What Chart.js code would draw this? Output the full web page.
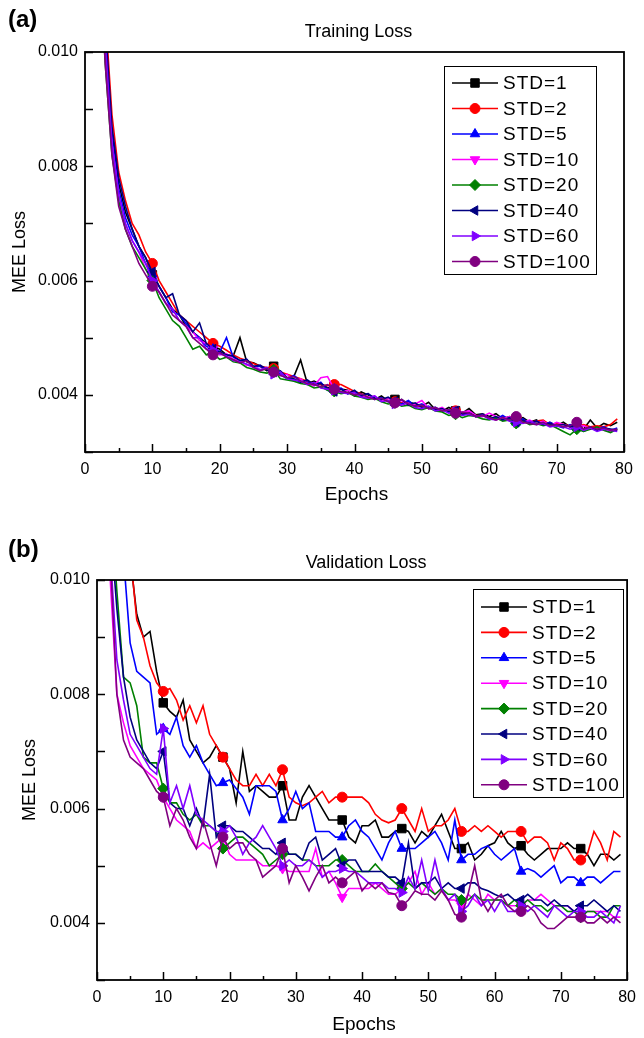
<!DOCTYPE html>
<html>
<head>
<meta charset="utf-8">
<script src="https://cdn.jsdelivr.net/npm/chart.js@4.4.0/dist/chart.umd.min.js"></script>
<style>
  html, body { margin: 0; padding: 0; background: #fff; }
  #wrap { position: relative; width: 644px; height: 1038px; }
  canvas { position: absolute; left: 0; }
</style>
</head>
<body>
<div id="wrap">
  <canvas id="trainChart" width="644" height="530" style="top:0"></canvas>
  <canvas id="valChart" width="644" height="508" style="top:530px"></canvas>
</div>
<script>
// epochs on the x axis
const epochs = [
  1, 2, 3, 4, 5, 6, 7, 8, 9, 10,
  11, 12, 13, 14, 15, 16, 17, 18, 19, 20,
  21, 22, 23, 24, 25, 26, 27, 28, 29, 30,
  31, 32, 33, 34, 35, 36, 37, 38, 39, 40,
  41, 42, 43, 44, 45, 46, 47, 48, 49, 50,
  51, 52, 53, 54, 55, 56, 57, 58, 59, 60,
  61, 62, 63, 64, 65, 66, 67, 68, 69, 70,
  71, 72, 73, 74, 75, 76, 77, 78, 79
];

const seriesNames = ['STD=1', 'STD=2', 'STD=5', 'STD=10', 'STD=20', 'STD=40', 'STD=60', 'STD=100'];
const seriesColors = ['#000000', '#ff0000', '#0000ff', '#ff00ff', '#008000', '#000080', '#8000ff', '#800080'];
const markerStyles = ['rect', 'circle', 'triangle', 'triangle', 'rectRot', 'triangle', 'triangle', 'circle'];
const markerRotations = [0, 0, 0, 180, 0, 270, 90, 0];
const markerSizes = [6, 5, 5.5, 5.5, 5.5, 5.5, 5.5, 5];

const yTicksShown = [0.004, 0.006, 0.008, 0.010];

// ---- (a) training loss ----
const trainStd1 = [
  0.0165, 0.0128, 0.0104, 0.0086, 0.0077, 0.0072, 0.0069, 0.0066, 0.0064, 0.0061,
  0.0059, 0.0057, 0.0055, 0.0054, 0.0052, 0.0051, 0.0050, 0.0049, 0.00485, 0.0048,
  0.0047, 0.00468, 0.0050, 0.00458, 0.00456, 0.0045, 0.00442, 0.0045, 0.00435, 0.0043,
  0.00432, 0.00461, 0.0042, 0.00424, 0.00418, 0.00412, 0.00415, 0.0041, 0.00408, 0.00398,
  0.00405, 0.0040, 0.00392, 0.00398, 0.00389, 0.00392, 0.00385, 0.00388, 0.00384, 0.0038,
  0.00387, 0.00374, 0.00372, 0.00378, 0.00372, 0.00368, 0.00376, 0.00365, 0.00367, 0.00362,
  0.00367, 0.00358, 0.00362, 0.00356, 0.0036, 0.00352, 0.00356, 0.00348, 0.00352, 0.00346,
  0.00352, 0.00344, 0.00348, 0.0034, 0.00356, 0.00342, 0.0035, 0.00346, 0.00352
];
const trainStd2 = [
  0.0170, 0.0132, 0.0107, 0.0089, 0.0079, 0.0074, 0.0070, 0.0068, 0.0065, 0.0063,
  0.0060, 0.0058, 0.0056, 0.0054, 0.0053, 0.0052, 0.0051, 0.0050, 0.0049, 0.00485,
  0.00478, 0.0047, 0.00464, 0.0046, 0.00455, 0.0045, 0.00448, 0.00446, 0.0044, 0.00436,
  0.00432, 0.00428, 0.00424, 0.0042, 0.00418, 0.00416, 0.00418, 0.00418, 0.00412, 0.00406,
  0.00402, 0.00396, 0.00394, 0.00392, 0.0039, 0.00388, 0.00386, 0.00386, 0.00382, 0.00379,
  0.00376, 0.00376, 0.00374, 0.00372, 0.00372, 0.00368, 0.00366, 0.00364, 0.00364, 0.0036,
  0.00356, 0.00362, 0.00358, 0.0036, 0.00354, 0.00352, 0.00354, 0.00356, 0.00348, 0.0035,
  0.00348, 0.00346, 0.00344, 0.00348, 0.00344, 0.00346, 0.00344, 0.00348, 0.00358
];
const trainStd5 = [
  0.0160, 0.0124, 0.0101, 0.0085, 0.0076, 0.0071, 0.0068, 0.0066, 0.0063, 0.0061,
  0.0059, 0.0057, 0.00545, 0.0054, 0.00525, 0.0051, 0.0050, 0.00485, 0.0048, 0.00475,
  0.0050, 0.00466, 0.0046, 0.00462, 0.00448, 0.0045, 0.00446, 0.0044, 0.00436, 0.00428,
  0.00434, 0.00424, 0.00422, 0.00416, 0.00422, 0.00408, 0.0041, 0.00412, 0.00402, 0.00404,
  0.00398, 0.00402, 0.00392, 0.00395, 0.00388, 0.00386, 0.00384, 0.0039, 0.0038, 0.00384,
  0.00376, 0.00378, 0.00372, 0.00374, 0.0037, 0.00364, 0.0037, 0.00362, 0.00366, 0.0036,
  0.00358, 0.00364, 0.00356, 0.00352, 0.00358, 0.0035, 0.00354, 0.00348, 0.00352, 0.00346,
  0.00342, 0.00348, 0.00344, 0.00336, 0.00342, 0.0034, 0.00344, 0.00338, 0.00342
];
const trainStd10 = [
  0.0158, 0.0122, 0.0099, 0.0084, 0.0075, 0.0070, 0.0067, 0.0065, 0.0062, 0.0060,
  0.0058, 0.0056, 0.0055, 0.0053, 0.0052, 0.0051, 0.00495, 0.0049, 0.0048, 0.0047,
  0.00472, 0.00462, 0.0046, 0.00452, 0.0045, 0.00444, 0.00446, 0.0044, 0.00434, 0.00436,
  0.00424, 0.00428, 0.0042, 0.00416, 0.0043, 0.00432, 0.0041, 0.00404, 0.00408, 0.00402,
  0.00398, 0.00396, 0.00398, 0.0039, 0.00394, 0.00386, 0.0039, 0.00382, 0.00384, 0.0039,
  0.00376, 0.00374, 0.00378, 0.0037, 0.00368, 0.0037, 0.00372, 0.00364, 0.00362, 0.00368,
  0.00362, 0.00358, 0.00362, 0.00356, 0.00352, 0.00356, 0.0035, 0.00354, 0.00346, 0.00352,
  0.00348, 0.00344, 0.00342, 0.00346, 0.0034, 0.00342, 0.00338, 0.00336, 0.00338
];
const trainStd20 = [
  0.0155, 0.0120, 0.0098, 0.0082, 0.0074, 0.0069, 0.0066, 0.0064, 0.0062, 0.0060,
  0.0057, 0.0055, 0.0053, 0.0052, 0.0050, 0.0048, 0.00485, 0.0047, 0.00472, 0.00462,
  0.00466, 0.00458, 0.00456, 0.00448, 0.00445, 0.0044, 0.00438, 0.00444, 0.00428, 0.00426,
  0.00424, 0.0042, 0.00418, 0.00412, 0.00414, 0.00408, 0.00406, 0.00402, 0.00404, 0.00398,
  0.00396, 0.00392, 0.00394, 0.00388, 0.00384, 0.00386, 0.0038, 0.00382, 0.00376, 0.00374,
  0.00378, 0.00372, 0.0037, 0.00364, 0.00366, 0.0036, 0.00364, 0.00362, 0.00358, 0.00356,
  0.0036, 0.00354, 0.00356, 0.0035, 0.00354, 0.00348, 0.0035, 0.00346, 0.00348, 0.00342,
  0.00336, 0.0033, 0.0034, 0.00336, 0.0034, 0.00344, 0.00338, 0.00334, 0.0034
];
const trainStd40 = [
  0.0168, 0.0129, 0.0105, 0.0087, 0.0078, 0.0073, 0.0069, 0.0066, 0.0064, 0.00615,
  0.0059, 0.0057, 0.00577, 0.0054, 0.0053, 0.0051, 0.00526, 0.0049, 0.0048, 0.00476,
  0.0047, 0.00468, 0.0046, 0.00462, 0.0045, 0.00452, 0.00444, 0.0044, 0.00442, 0.0043,
  0.00428, 0.00422, 0.00426, 0.00418, 0.0042, 0.00412, 0.00406, 0.0041, 0.00402, 0.00408,
  0.00398, 0.00402, 0.00394, 0.00392, 0.00396, 0.00388, 0.00392, 0.00382, 0.00386, 0.00378,
  0.0038, 0.00374, 0.00376, 0.0037, 0.00372, 0.00366, 0.00368, 0.00362, 0.00366, 0.00358,
  0.00362, 0.00356, 0.0036, 0.00352, 0.00356, 0.0035, 0.00354, 0.00348, 0.0035, 0.00346,
  0.00348, 0.00344, 0.00346, 0.0034, 0.00344, 0.00338, 0.00342, 0.0034, 0.00338
];
const trainStd60 = [
  0.0162, 0.0125, 0.0102, 0.0084, 0.0075, 0.0070, 0.0067, 0.0065, 0.0063, 0.0060,
  0.0058, 0.0056, 0.0055, 0.0053, 0.0052, 0.0050, 0.0050, 0.0048, 0.00478, 0.00472,
  0.00468, 0.0046, 0.00458, 0.00454, 0.00448, 0.00444, 0.00448, 0.00436, 0.0044, 0.00428,
  0.00426, 0.00424, 0.00418, 0.00422, 0.00412, 0.0041, 0.00408, 0.00404, 0.00402, 0.00404,
  0.00396, 0.00394, 0.00398, 0.00388, 0.0039, 0.00384, 0.00382, 0.00386, 0.00378, 0.00376,
  0.0038, 0.00372, 0.00374, 0.00368, 0.0037, 0.00364, 0.00366, 0.00362, 0.00364, 0.00358,
  0.00356, 0.0036, 0.00354, 0.00352, 0.0035, 0.00354, 0.00348, 0.0035, 0.00344, 0.00346,
  0.00344, 0.0034, 0.00344, 0.00338, 0.00342, 0.00336, 0.0034, 0.00338, 0.00336
];
const trainStd100 = [
  0.0157, 0.0121, 0.0098, 0.0082, 0.0073, 0.0069, 0.0066, 0.0063, 0.0061, 0.0059,
  0.0058, 0.0056, 0.0054, 0.0053, 0.0052, 0.0050, 0.0049, 0.0048, 0.0047, 0.00474,
  0.00466, 0.00462, 0.00456, 0.0046, 0.00448, 0.00442, 0.00446, 0.0044, 0.00434, 0.0043,
  0.00432, 0.00424, 0.0042, 0.00418, 0.00414, 0.00418, 0.0041, 0.00406, 0.00404, 0.0040,
  0.00402, 0.00396, 0.00392, 0.00394, 0.00388, 0.00386, 0.00392, 0.00384, 0.0038, 0.00382,
  0.00376, 0.00378, 0.00372, 0.00374, 0.00368, 0.0037, 0.00368, 0.00362, 0.00364, 0.0036,
  0.00356, 0.0036, 0.00356, 0.00362, 0.00352, 0.0035, 0.00348, 0.00352, 0.00346, 0.00348,
  0.00344, 0.00346, 0.00352, 0.0034, 0.00344, 0.0034, 0.00342, 0.00338, 0.0034
];

// ---- (b) validation loss ----
const valStd1 = [
  0.0135, 0.0125, 0.0116, 0.0109, 0.0104, 0.0094, 0.0090, 0.0091, 0.0084, 0.00785,
  0.0077, 0.0076, 0.0079, 0.0072, 0.0070, 0.0068, 0.0069, 0.0071, 0.0069, 0.0067,
  0.0061, 0.0070, 0.0063, 0.0064, 0.0063, 0.0062, 0.0062, 0.0064, 0.0058, 0.0058,
  0.0062, 0.0064, 0.0062, 0.0060, 0.0058, 0.0058, 0.0058, 0.0055, 0.0054, 0.0057,
  0.0057, 0.0058, 0.0055, 0.0055, 0.0056, 0.00565, 0.0056, 0.0054, 0.0056, 0.0055,
  0.0057, 0.0059, 0.0056, 0.0053, 0.0053, 0.0054, 0.0051, 0.0052, 0.00535, 0.0054,
  0.0056, 0.0054, 0.0053, 0.00535, 0.0052, 0.0051, 0.0052, 0.0053, 0.0053, 0.0053,
  0.0054, 0.0053, 0.0053, 0.0052, 0.0050, 0.0052, 0.0052, 0.0051, 0.0052
];
const valStd2 = [
  0.0145, 0.0132, 0.0121, 0.0112, 0.0105, 0.0093, 0.0090, 0.0085, 0.0082, 0.00805,
  0.0081, 0.0079, 0.00755, 0.0078, 0.0075, 0.0078, 0.0073, 0.0071, 0.0069, 0.0067,
  0.0065, 0.0064, 0.0064, 0.0066, 0.0064, 0.0066, 0.0064, 0.00668, 0.0062, 0.0061,
  0.00605, 0.0061, 0.0062, 0.0063, 0.0061, 0.0062, 0.0062, 0.0062, 0.0062, 0.0062,
  0.0061, 0.0059, 0.0058, 0.00575, 0.0058, 0.0060, 0.0058, 0.0056, 0.0060, 0.0056,
  0.0057, 0.0057, 0.0058, 0.0060, 0.0056, 0.0056, 0.0057, 0.0056, 0.0057, 0.0056,
  0.0055, 0.0056, 0.0056, 0.0056, 0.0054, 0.0055, 0.0055, 0.0054, 0.0051, 0.0054,
  0.0053, 0.0051, 0.0051, 0.0052, 0.0056, 0.0054, 0.0051, 0.0056, 0.0055
];
const valStd5 = [
  0.0140, 0.0125, 0.0114, 0.0104, 0.0089, 0.0084, 0.0083, 0.0082, 0.0073, 0.0074,
  0.0073, 0.0076, 0.0071, 0.0069, 0.0071, 0.0068, 0.0066, 0.0064, 0.00645, 0.0065,
  0.00635, 0.0062, 0.0059, 0.0064, 0.0064, 0.0064, 0.0063, 0.0058, 0.0060, 0.0063,
  0.0060, 0.0061, 0.0056, 0.0056, 0.0056, 0.0055, 0.0055, 0.0057, 0.0058, 0.0056,
  0.0055, 0.0053, 0.0051, 0.0054, 0.0056, 0.0053, 0.0053, 0.0053, 0.0054, 0.0055,
  0.0056, 0.0054, 0.0051, 0.0058, 0.0051, 0.0052, 0.0052, 0.0053, 0.00535, 0.0052,
  0.0051, 0.0052, 0.0053, 0.0049, 0.00495, 0.0049, 0.0048, 0.0049, 0.0050, 0.0047,
  0.0048, 0.0048, 0.0047, 0.0048, 0.0048, 0.0047, 0.0048, 0.0049, 0.0049
];
const valStd10 = [
  0.0130, 0.0100, 0.0080, 0.0075, 0.0071, 0.0069, 0.0067, 0.0066, 0.0065, 0.0062,
  0.0060, 0.0058, 0.0057, 0.0056, 0.0053, 0.0054, 0.0053, 0.0054, 0.0055, 0.0052,
  0.0051, 0.0051, 0.0051, 0.0051, 0.0050, 0.0050, 0.0050, 0.00495, 0.0049, 0.0049,
  0.0049, 0.0049, 0.0053, 0.0048, 0.0049, 0.0047, 0.00445, 0.0046, 0.0046, 0.0046,
  0.0046, 0.0047, 0.0046, 0.0045, 0.0045, 0.0046, 0.0047, 0.0049, 0.0045, 0.0047,
  0.0045, 0.0046, 0.0044, 0.0044, 0.0043, 0.0045, 0.0044, 0.0043, 0.0045, 0.0044,
  0.0044, 0.0043, 0.0043, 0.0043, 0.0044, 0.0044, 0.0045, 0.0044, 0.0043, 0.0043,
  0.0043, 0.0042, 0.0041, 0.0042, 0.0042, 0.0042, 0.0042, 0.0041, 0.0041
];
const valStd20 = [
  0.0140, 0.0115, 0.0098, 0.0083, 0.0082, 0.0078, 0.0069, 0.0068, 0.0068, 0.00635,
  0.0061, 0.0061, 0.0059, 0.0058, 0.0059, 0.0057, 0.0057, 0.0056, 0.0053, 0.0054,
  0.0055, 0.0055, 0.0054, 0.0053, 0.0052, 0.0050, 0.0051, 0.0052, 0.0052, 0.0052,
  0.0051, 0.0051, 0.0050, 0.0050, 0.0050, 0.0051, 0.0051, 0.0050, 0.0049, 0.0049,
  0.0049, 0.00503, 0.0049, 0.0048, 0.0047, 0.0046, 0.0047, 0.0046, 0.0047, 0.0046,
  0.0045, 0.0046, 0.0045, 0.0045, 0.0044, 0.0044, 0.0045, 0.0044, 0.0044, 0.0044,
  0.0044, 0.0043, 0.0044, 0.0043, 0.0044, 0.0043, 0.0043, 0.0042, 0.0043, 0.0043,
  0.0042, 0.0042, 0.0041, 0.0042, 0.0042, 0.0041, 0.0041, 0.0043, 0.0043
];
const valStd40 = [
  0.0140, 0.0110, 0.0095, 0.0083, 0.0076, 0.0072, 0.0070, 0.0068, 0.0067, 0.0070,
  0.0061, 0.0060, 0.0060, 0.0057, 0.0060, 0.0057, 0.0066, 0.0055, 0.0057, 0.0057,
  0.0056, 0.0056, 0.0055, 0.0054, 0.0053, 0.0053, 0.0052, 0.0054, 0.0052, 0.0052,
  0.0051, 0.0054, 0.0055, 0.0051, 0.0052, 0.0053, 0.0050, 0.0051, 0.0051, 0.0049,
  0.0049, 0.0049, 0.0049, 0.0048, 0.0048, 0.0047, 0.0054, 0.0046, 0.0047, 0.0047,
  0.0048, 0.0046, 0.0047, 0.0046, 0.0046, 0.0047, 0.0047, 0.0046, 0.00456, 0.0045,
  0.00445, 0.0045, 0.0044, 0.0044, 0.0045, 0.0044, 0.0044, 0.0043, 0.0044, 0.0043,
  0.0043, 0.0042, 0.0043, 0.0043, 0.0044, 0.0043, 0.0042, 0.0043, 0.0042
];
const valStd60 = [
  0.0140, 0.0105, 0.0086, 0.0079, 0.0073, 0.0071, 0.0069, 0.0067, 0.0066, 0.0074,
  0.0061, 0.0064, 0.0060, 0.0064, 0.0059, 0.0058, 0.0057, 0.0056, 0.0056, 0.0057,
  0.0055, 0.0052, 0.0054, 0.0055, 0.0057, 0.0055, 0.0053, 0.0050, 0.0051, 0.0050,
  0.0050, 0.0051, 0.0050, 0.0048, 0.0049, 0.0049, 0.00495, 0.0049, 0.0049, 0.0048,
  0.0047, 0.0047, 0.0047, 0.0046, 0.0046, 0.00453, 0.0048, 0.0046, 0.0051, 0.00456,
  0.0051, 0.0046, 0.0044, 0.0045, 0.0042, 0.0043, 0.0045, 0.0043, 0.0044, 0.0042,
  0.0044, 0.0042, 0.0042, 0.0043, 0.0042, 0.0043, 0.0042, 0.0041, 0.0043, 0.0042,
  0.0041, 0.0042, 0.0042, 0.0041, 0.0041, 0.0042, 0.0041, 0.0040, 0.0043
];
const valStd100 = [
  0.0120, 0.0104, 0.0080, 0.0072, 0.0069, 0.0068, 0.0067, 0.0065, 0.0063, 0.0062,
  0.0057, 0.0060, 0.0058, 0.0055, 0.0053, 0.0058, 0.0054, 0.0050, 0.0055, 0.0053,
  0.0054, 0.0054, 0.0052, 0.0051, 0.0048, 0.0049, 0.0050, 0.0053, 0.0047, 0.0050,
  0.0048, 0.00456, 0.0048, 0.0050, 0.0047, 0.0048, 0.0047, 0.0048, 0.0049, 0.00456,
  0.0047, 0.0046, 0.0047, 0.00453, 0.0045, 0.0043, 0.0044, 0.00456, 0.0045, 0.0045,
  0.0044, 0.00456, 0.0044, 0.00415, 0.0041, 0.0045, 0.0050, 0.0044, 0.0042, 0.0044,
  0.0045, 0.0043, 0.0042, 0.0042, 0.0043, 0.0042, 0.0040, 0.0039, 0.0039, 0.0040,
  0.0041, 0.0041, 0.0041, 0.0040, 0.0040, 0.0041, 0.0040, 0.0041, 0.0040
];

const trainSeries = [trainStd1, trainStd2, trainStd5, trainStd10, trainStd20, trainStd40, trainStd60, trainStd100];
const valSeries = [valStd1, valStd2, valStd5, valStd10, valStd20, valStd40, valStd60, valStd100];

const FONT = '"Liberation Sans", Arial, Helvetica, sans-serif';

function drawMarker(ctx, i, x, y) {
  const opts = { pointStyle: markerStyles[i], rotation: markerRotations[i], radius: markerSizes[i], borderWidth: 1 };
  if (Chart.helpers && Chart.helpers.drawPoint) {
    Chart.helpers.drawPoint(ctx, opts, x, y);
  } else {
    ctx.beginPath();
    ctx.arc(x, y, markerSizes[i], 0, Math.PI * 2);
    ctx.fill();
  }
}

// frame, inward ticks, texts and the boxed legend
const panelPlugin = {
  id: 'panel',
  afterDraw(chart, args, o) {
    const { ctx, chartArea: a, scales: { x, y } } = chart;
    ctx.save();
    ctx.strokeStyle = '#000';
    ctx.lineWidth = 1.8;
    ctx.strokeRect(a.left, a.top, a.right - a.left, a.bottom - a.top);

    ctx.lineWidth = 1.5;
    ctx.beginPath();
    y.ticks.forEach(t => {
      const py = Math.round(y.getPixelForValue(t.value)) + 0.5;
      ctx.moveTo(a.left, py);
      ctx.lineTo(a.left + 8, py);
    });
    x.ticks.forEach((t, i) => {
      const px = Math.round(x.getPixelForValue(t.value)) + 0.5;
      ctx.moveTo(px, a.bottom);
      ctx.lineTo(px, a.bottom - 8);
      if (i < x.ticks.length - 1) {
        const pm = Math.round(x.getPixelForValue(t.value + 5)) + 0.5;
        ctx.moveTo(pm, a.bottom);
        ctx.lineTo(pm, a.bottom - 4);
      }
    });
    ctx.stroke();

    ctx.fillStyle = '#000';
    ctx.textBaseline = 'middle';
    ctx.textAlign = 'left';
    ctx.font = 'bold 24px ' + FONT;
    ctx.fillText(o.panel, o.panelX, o.panelY);

    ctx.textAlign = 'center';
    ctx.font = '18px ' + FONT;
    ctx.fillText(o.title, (a.left + a.right) / 2 + 4, o.titleY);
    ctx.font = '19px ' + FONT;
    ctx.fillText('Epochs', (a.left + a.right) / 2 + 2, o.xTitleY);
    ctx.save();
    ctx.translate(o.yTitleX, (a.top + a.bottom) / 2);
    ctx.rotate(-Math.PI / 2);
    ctx.font = '18px ' + FONT;
    ctx.fillText('MEE Loss', 0, 0);
    ctx.restore();

    // legend
    const L = o.legend;
    ctx.fillStyle = '#fff';
    ctx.fillRect(L.left, L.top, L.width, L.height);
    ctx.lineWidth = 1;
    ctx.strokeStyle = '#000';
    ctx.strokeRect(L.left + 0.5, L.top + 0.5, L.width, L.height);
    ctx.font = '19px ' + FONT;
    ctx.textAlign = 'left';
    if ('letterSpacing' in ctx) ctx.letterSpacing = '1px';
    seriesNames.forEach((name, i) => {
      const ry = L.top + L.first + i * L.rowH;
      ctx.strokeStyle = seriesColors[i];
      ctx.fillStyle = seriesColors[i];
      ctx.lineWidth = 1.6;
      ctx.beginPath();
      ctx.moveTo(L.left + 8, ry);
      ctx.lineTo(L.left + 54, ry);
      ctx.stroke();
      ctx.lineWidth = 1;
      drawMarker(ctx, i, L.left + 31, ry);
      ctx.fillStyle = '#000';
      ctx.fillText(name, L.left + 59, ry + 1);
    });
    ctx.restore();
  }
};

function makeChart(id, series, g) {
  const datasets = seriesNames.map((name, i) => ({
    label: name,
    data: epochs.map((e, j) => ({ x: e, y: series[i][j] })),
    borderColor: seriesColors[i],
    backgroundColor: seriesColors[i],
    borderWidth: 1.6,
    pointStyle: markerStyles[i],
    pointRotation: markerRotations[i],
    pointRadius: c => (epochs[c.dataIndex] % 9 === 1 ? markerSizes[i] : 0),
    pointBorderWidth: 1,
    tension: 0,
    order: seriesNames.length - i
  }));

  return new Chart(document.getElementById(id), {
    type: 'line',
    data: { datasets },
    options: {
      responsive: false,
      animation: false,
      devicePixelRatio: 1,
      layout: { padding: { top: g.top, right: g.right, left: 0, bottom: 0 } },
      plugins: {
        legend: { display: false },
        tooltip: { enabled: false },
        title: { display: false },
        panel: g.panel
      },
      scales: {
        x: {
          type: 'linear',
          min: 0,
          max: 80,
          afterFit(s) { s.height = g.xh; },
          grid: { display: false, drawTicks: false },
          border: { display: false },
          ticks: { stepSize: 10, padding: 8, color: '#000', maxRotation: 0, autoSkip: false,
                   font: { family: FONT, size: 16 } }
        },
        y: {
          min: 0.003,
          max: 0.010,
          afterFit(s) { s.width = g.yw; },
          grid: { display: false, drawTicks: false },
          border: { display: false },
          ticks: {
            stepSize: 0.001,
            padding: 7,
            color: '#000',
            font: { family: FONT, size: 16 },
            callback: v => (yTicksShown.some(t => Math.abs(t - v) < 1e-7) ? v.toFixed(3) : '')
          }
        }
      }
    },
    plugins: [panelPlugin]
  });
}

makeChart('trainChart', trainSeries, {
  top: 52, right: 20, yw: 85, xh: 78,
  panel: {
    panel: '(a)', panelX: 8, panelY: 20, title: 'Training Loss', titleY: 32,
    xTitleY: 495, yTitleX: 20,
    legend: { left: 444, top: 66, width: 152, height: 208, first: 17, rowH: 25.5 }
  }
});

makeChart('valChart', valSeries, {
  top: 50, right: 12, yw: 97, xh: 58,
  panel: {
    panel: '(b)', panelX: 8, panelY: 20, title: 'Validation Loss', titleY: 33,
    xTitleY: 495, yTitleX: 30,
    legend: { left: 473, top: 59, width: 150, height: 208, first: 18, rowH: 25.4 }
  }
});
</script>
</body>
</html>
